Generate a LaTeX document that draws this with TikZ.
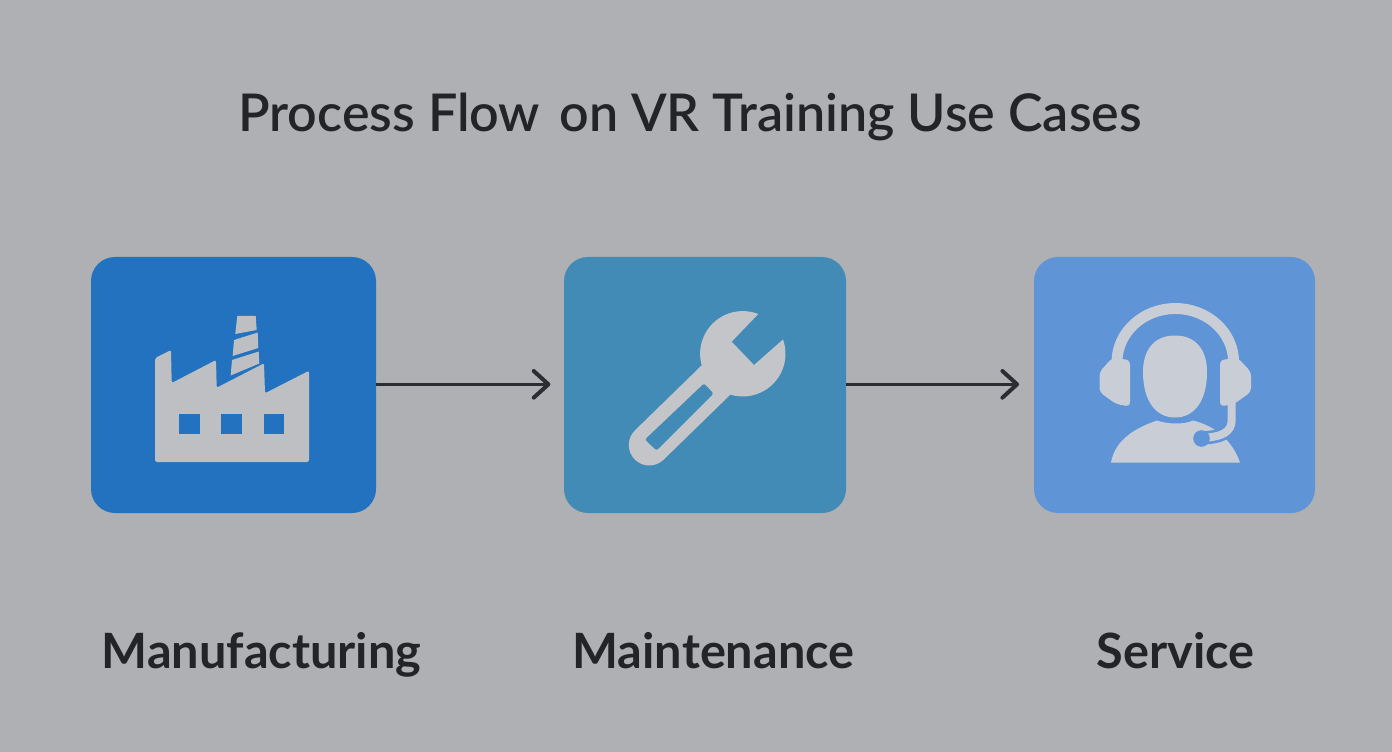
\documentclass[tikz,border=0pt]{standalone}
\usepackage{fontspec}
\usetikzlibrary{arrows.meta}
\setmainfont{Lato}
\newfontfamily\ttlfont{Lato Semibold}
\newfontfamily\lblfont{Lato Bold}
\definecolor{bgc}{HTML}{AEB0B3}
\definecolor{boxa}{HTML}{2272BF}
\definecolor{boxb}{HTML}{418BB6}
\definecolor{boxc}{HTML}{5F94D6}
\definecolor{icona}{HTML}{BDBFC2}
\definecolor{iconb}{HTML}{C3C5C8}
\definecolor{iconc}{HTML}{C9CED6}
\definecolor{ink}{HTML}{232427}
\definecolor{arrowc}{HTML}{2B2D33}
\tikzset{
  tile/.style={draw=none,rounded corners=18pt,minimum height=192pt,inner sep=0pt},
  caption/.style={text=ink,anchor=base,inner sep=0pt,font=\lblfont\fontsize{36.5pt}{40pt}\selectfont},
  titletext/.style={text=ink,anchor=base,inner sep=0pt,font=\ttlfont\fontsize{39pt}{42pt}\selectfont},
  flow/.style={draw=arrowc,line width=2.7pt,-{Straight Barb[round,length=11pt,width=20pt,line width=3pt]}},
}
\begin{document}
\begin{tikzpicture}[x=0.75pt,y=-0.75pt]
\useasboundingbox (0,0) rectangle (1392,752);
\fill[bgc] (0,0) rectangle (1392,752);

\node[titletext] (title) at (690,131.5) {Process Flow\hspace{0.12em} on VR Training Use Cases};

\node[tile,fill=boxa,minimum width=213.75pt] (mfg) at (233.5,385) {};
\node[tile,fill=boxb,minimum width=211.5pt] (mnt) at (705,385) {};
\node[tile,fill=boxc,minimum width=210.75pt] (svc) at (1174.5,385) {};

\draw[flow,shorten >=10pt] ([yshift=0.5pt]mfg.east) -- ([yshift=0.5pt]mnt.west);
\draw[flow,shorten >=11pt] ([yshift=0.5pt]mnt.east) -- ([yshift=0.5pt]svc.west);

% factory icon
\fill[icona,rounded corners=1.5pt]
  (155,462) -- (155,358) -- (171,350) -- (171.7,383) -- (216,360) -- (216.7,387.7)
  -- (264,363.3) -- (265,393.3) -- (309,370.7) -- (309,462) -- cycle;
\fill[boxa] (179.3,414.3) rectangle (200,434.3);
\fill[boxa] (221.3,414.3) rectangle (242,434.3);
\fill[boxa] (264,414.3) rectangle (284.3,434.3);
\fill[icona] (237.3,316) -- (255.7,316) -- (256.7,330) -- (235.3,334) -- cycle;
\fill[icona] (234,340) -- (257.7,332.5) -- (258.3,348) -- (232.7,356) -- cycle;
\fill[icona] (232,360) -- (258.7,351.5) -- (259.3,363.5) -- (230.7,375.5) -- cycle;

% wrench icon
\draw[iconb,line width=30.75pt,line cap=round] (649.3,445) -- (716,380);
\fill[iconb] (758.3,314) arc[start angle=-68.7,end angle=-379.6,radius=42.7]
  -- (754,365) -- (731.7,341.7) -- cycle;
\fill[boxb,rounded corners=1.5pt] (645,439.5) -- (704,383.5) -- (713.5,393.5) -- (656.5,450.5) -- cycle;

% headset icon
\fill[iconc] (1111,462.5) .. controls (1115,440) and (1135,428) .. (1157,420.5)
  .. controls (1166,424) and (1184,425) .. (1193,420.5)
  .. controls (1215,426) and (1232,440) .. (1240,462.5) -- cycle;
\draw[boxc,line width=10pt] (1231.7,408) -- (1231.7,420) .. controls (1231.7,432) and (1222,437) .. (1202,438);
\draw[iconc,line width=6pt] (1231.7,400) -- (1231.7,420) .. controls (1231.7,432) and (1222,437) .. (1202,438);
\fill[boxc] (1201.5,438.5) circle[radius=8.3];
\fill[iconc] (1175,335.5) .. controls (1196,335.5) and (1207,350) .. (1207,372)
  .. controls (1207,400) and (1195,417.5) .. (1175,417.5)
  .. controls (1155,417.5) and (1143,400) .. (1143,372)
  .. controls (1143,350) and (1154,335.5) .. (1175,335.5) -- cycle;
\draw[iconc,line width=8.2pt] (1117,362) arc[start angle=180,end angle=360,x radius=58.3,y radius=53.5];
\fill[iconc,rounded corners=3pt] (1130,360) -- (1130,406.5) -- (1116,404) -- (1099.5,392) -- (1099.5,372) -- (1112,358) -- cycle;
\fill[iconc,rounded corners=3pt] (1220,360) -- (1220,406.5) -- (1234,404) -- (1251,392) -- (1251,372) -- (1238,358) -- cycle;

\node[caption] (lmfg) at (261.5,668) {Manufacturing};
\node[caption] (lmnt) at (713.5,668) {Maintenance};
\node[caption] (lsvc) at (1175.5,668) {Service};
\end{tikzpicture}
\end{document}
